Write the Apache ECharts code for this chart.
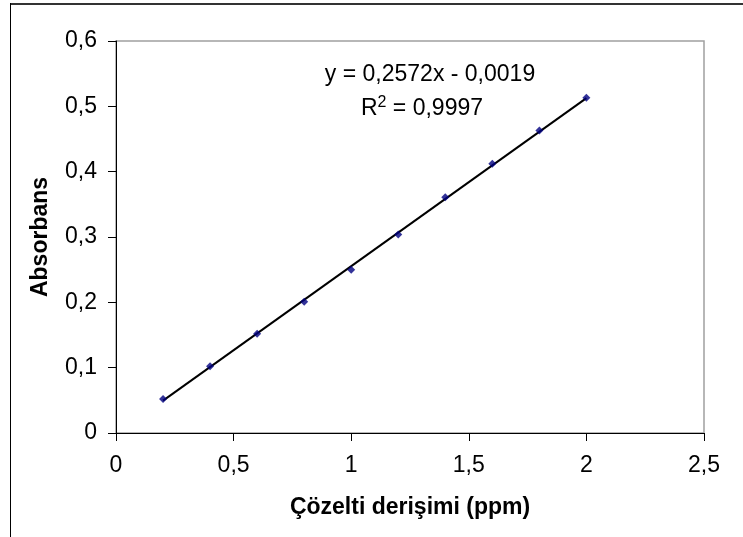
<!DOCTYPE html>
<html>
<head>
<meta charset="utf-8">
<style>html,body{margin:0;padding:0;background:#fff;}#c{width:743px;height:537px;}</style>
<script src="https://cdn.jsdelivr.net/npm/echarts@6/dist/echarts.min.js"></script>
</head>
<body>
<div id="c"></div>
<script>
const concentrations = [0.2, 0.4, 0.6, 0.8, 1.0, 1.2, 1.4, 1.6, 1.8, 2.0];
const absorbance = [0.052, 0.102, 0.152, 0.201, 0.250, 0.304, 0.361, 0.412, 0.463, 0.513];
const trendX = [0.2, 2.0];
const trendY = [0.0495, 0.5125];
const equationText = 'y = 0,2572x - 0,0019';
const r2Text = '0,9997';
const xTitle = 'Çözelti derişimi (ppm)';
const yTitle = 'Absorbans';

const FONT = '"Liberation Sans", Arial, sans-serif';
const fmt = v => String(+v.toFixed(2)).replace('.', ',');

const chart = echarts.init(document.getElementById('c'), null, {renderer: 'canvas'});
chart.setOption({
  animation: false,
  backgroundColor: '#fff',
  grid: {left: 116, right: 39, top: 41, bottom: 104, show: true, borderColor: '#a0a0a0', borderWidth: 1.5, backgroundColor: 'transparent'},
  xAxis: {
    type: 'value', min: 0, max: 2.5, interval: 0.5,
    name: xTitle, nameLocation: 'middle', nameGap: 63,
    nameTextStyle: {fontFamily: FONT, fontSize: 23, fontWeight: 'bold', color: '#000'},
    axisLine: {show: true, onZero: false, lineStyle: {color: '#000', width: 1}},
    axisTick: {show: true, length: 8, lineStyle: {color: '#000'}},
    axisLabel: {fontFamily: FONT, fontSize: 23, color: '#000', margin: 21, formatter: fmt},
    splitLine: {show: false}
  },
  yAxis: {
    type: 'value', min: 0, max: 0.6, interval: 0.1,
    name: yTitle, nameLocation: 'middle', nameGap: 64,
    nameTextStyle: {fontFamily: FONT, fontSize: 23, fontWeight: 'bold', color: '#000'},
    axisLine: {show: true, onZero: false, lineStyle: {color: '#000', width: 1}},
    axisTick: {show: true, length: 8, lineStyle: {color: '#000'}},
    axisLabel: {fontFamily: FONT, fontSize: 23, color: '#000', margin: 19, formatter: fmt},
    splitLine: {show: false}
  },
  series: [
    {
      type: 'line', data: trendX.map((x, i) => [x, trendY[i]]),
      symbol: 'none', lineStyle: {color: '#000', width: 2}, z: 2, silent: true
    },
    {
      type: 'scatter', data: concentrations.map((x, i) => [x, absorbance[i]]),
      symbol: 'diamond', symbolSize: 8, itemStyle: {color: '#000080'}, z: 3
    }
  ],
  graphic: [
    {type: 'line', shape: {x1: 10, y1: 4, x2: 743, y2: 4}, style: {stroke: '#333', lineWidth: 2}},
    {type: 'line', shape: {x1: 10.5, y1: 3, x2: 10.5, y2: 537}, style: {stroke: '#000', lineWidth: 1}},
    {type: 'text', x: 430, y: 75, style: {text: equationText, font: '23px ' + FONT, fill: '#000', textAlign: 'center', textVerticalAlign: 'middle'}},
    {type: 'text', x: 422, y: 109, style: {
      text: 'R{sup|2} = ' + r2Text, font: '23px ' + FONT, fill: '#000', textAlign: 'center', textVerticalAlign: 'middle',
      rich: {sup: {fontSize: 16, fontFamily: FONT, verticalAlign: 'top', padding: [0, 0, 13, 0], fill: '#000'}}
    }}
  ]
});
</script>
</body>
</html>
